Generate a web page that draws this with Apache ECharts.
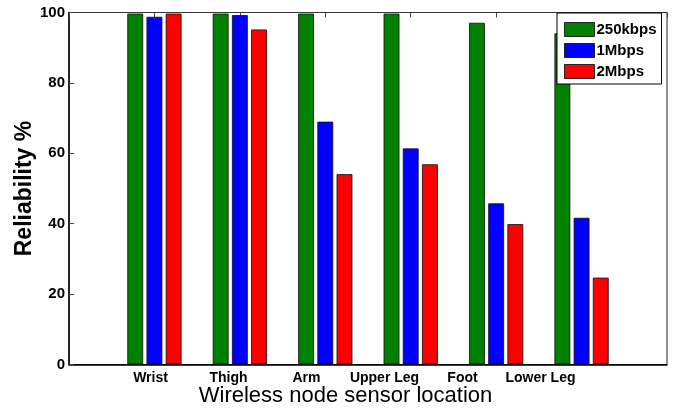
<!DOCTYPE html>
<html>
<head>
<meta charset="utf-8">
<style>
  html, body { margin: 0; padding: 0; background: #fff; }
  #chart { width: 676px; height: 418px; }
</style>
<script src="https://cdn.jsdelivr.net/npm/echarts@6/dist/echarts.min.js"></script>
</head>
<body>
<div id="chart"></div>
<script>
const categories = ['Wrist', 'Thigh', 'Arm', 'Upper Leg', 'Foot', 'Lower Leg'];
const seriesNames = ['250kbps', '1Mbps', '2Mbps'];
const rate250k = [99.7, 99.7, 99.7, 99.7, 97.1, 94.1];
const rate1M = [98.8, 99.3, 69.0, 61.4, 45.8, 41.7];
const rate2M = [99.7, 95.2, 54.1, 56.9, 39.9, 24.7];
const yTicks = [0, 20, 40, 60, 80, 100];

const FONT = '"Liberation Sans", Arial, sans-serif';
const slots = [''].concat(categories, ['']);
const pad = arr => ['-'].concat(arr, ['-']);
const colors = ['#008000', '#0000ff', '#ff0000'];
const values = [rate250k, rate1M, rate2M];

const chart = echarts.init(document.getElementById('chart'), null, { renderer: 'canvas' });
chart.setOption({
  animation: false,
  backgroundColor: '#fff',
  grid: [
    { left: 69, right: 9, top: 12.5, bottom: 53.5, show: true, borderColor: '#222', borderWidth: 1, containLabel: false, outerBoundsMode: 'none' },
    { left: 72.5, right: 57.5, top: 12.5, bottom: 53.5, show: false, containLabel: false, outerBoundsMode: 'none' }
  ],
  legend: {
    data: seriesNames,
    orient: 'vertical',
    left: 557,
    top: 13,
    padding: [9, 5, 5, 7],
    itemWidth: 30,
    itemHeight: 14,
    itemGap: 6,
    backgroundColor: '#fff',
    borderColor: '#000',
    borderWidth: 1,
    borderRadius: 0,
    selectedMode: false,
    icon: 'rect',
    itemStyle: { borderColor: '#222', borderWidth: 1 },
    textStyle: { fontFamily: FONT, fontWeight: 'bold', fontSize: 15, color: '#000', padding: [0, 0, 0, -3], lineHeight: 14 }
  },
  xAxis: [
    {
      type: 'category', gridIndex: 0, data: slots, boundaryGap: false,
      axisLine: { show: true, lineStyle: { color: '#000', width: 1.5 } },
      axisTick: { show: false }, axisLabel: { show: false }, splitLine: { show: false }
    },
    {
      type: 'category', gridIndex: 0, data: slots, boundaryGap: false, position: 'top',
      axisLine: { show: true, lineStyle: { color: '#333', width: 1 } },
      axisTick: { show: true, inside: true, length: 5, lineStyle: { color: '#444' } },
      axisLabel: { show: false }, splitLine: { show: false }
    },
    {
      type: 'category', gridIndex: 1, data: slots, boundaryGap: false,
      axisLine: { show: false }, axisTick: { show: false }, splitLine: { show: false },
      axisLabel: { show: true, interval: 0, margin: 7, fontFamily: FONT, fontWeight: 'bold', fontSize: 14, color: '#000' },
      name: 'Wireless node sensor location', nameLocation: 'middle', nameGap: 20, nameMoveOverlap: false,
      nameTextStyle: { fontFamily: FONT, fontSize: 22, color: '#000' }
    }
  ],
  yAxis: [
    {
      type: 'value', gridIndex: 0, min: yTicks[0], max: yTicks[yTicks.length - 1], interval: yTicks[1] - yTicks[0],
      axisLine: { show: true, lineStyle: { color: '#000', width: 1.5 } },
      axisTick: { show: true, inside: true, length: 5, lineStyle: { color: '#444' } },
      splitLine: { show: false },
      axisLabel: { margin: 4, fontFamily: FONT, fontWeight: 'bold', fontSize: 15, color: '#000' },
      name: 'Reliability %', nameLocation: 'middle', nameRotate: 90, nameGap: 33, nameMoveOverlap: false,
      nameTextStyle: { fontFamily: FONT, fontWeight: 'bold', fontSize: 23, color: '#000' }
    },
    { type: 'value', gridIndex: 1, show: false, min: 0, max: 100 }
  ],
  series: seriesNames.map((name, i) => ({
    name: name,
    type: 'bar',
    xAxisIndex: 0,
    yAxisIndex: 0,
    data: pad(values[i]),
    barWidth: 16,
    barGap: '20%',
    itemStyle: { color: colors[i], borderColor: 'rgba(20,20,20,0.85)', borderWidth: 1 },
    emphasis: { disabled: true }
  }))
});
</script>
</body>
</html>
